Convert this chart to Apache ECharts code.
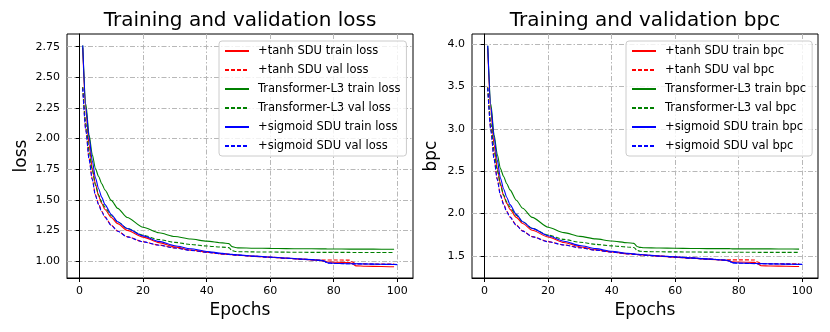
<!DOCTYPE html>
<html>
<head>
<meta charset="utf-8">
<script src="https://cdn.jsdelivr.net/npm/echarts@6/dist/echarts.min.js"></script>
<style>
  html, body { margin: 0; padding: 0; background: #fff; }
  #chart { width: 830px; height: 332px; }
</style>
</head>
<body>
<div id="chart"></div>
<script>
const epochs = [1, 2, 3, 4, 5, 6, 7, 8, 10, 12, 15, 20, 25, 30, 35, 40, 45, 47, 48, 49, 50,
  55, 60, 65, 70, 76, 77, 78, 80, 85, 86, 87, 90, 95, 99, 100];

const epochTicks = [0, 20, 40, 60, 80, 100];
const lossTicks = [1.0, 1.25, 1.5, 1.75, 2.0, 2.25, 2.5, 2.75];
const bpcTicks = [1.5, 2.0, 2.5, 3.0, 3.5, 4.0];

// loss
const tanhTrainLoss = [2.74, 2.22, 1.95, 1.76, 1.63, 1.53, 1.47, 1.42, 1.355, 1.305, 1.25, 1.195, 1.15, 1.115, 1.09, 1.072, 1.058, 1.054, 1.052, 1.05, 1.047,
  1.038, 1.03, 1.022, 1.014, 1.004, 0.998, 0.992, 0.99, 0.987, 0.975, 0.96, 0.957, 0.955, 0.953, null];
const tanhValLoss = [2.42, 2.07, 1.84, 1.67, 1.54, 1.465, 1.405, 1.36, 1.292, 1.245, 1.198, 1.157, 1.13, 1.107, 1.088, 1.072, 1.058, 1.054, 1.051, 1.049, 1.047,
  1.039, 1.031, 1.023, 1.015, 1.007, 1.008, 1.008, 1.008, 1.007, 0.99, 0.978, 0.976, 0.975, 0.975, null];
const transTrainLoss = [2.76, 2.28, 2.03, 1.87, 1.755, 1.69, 1.63, 1.58, 1.495, 1.43, 1.355, 1.275, 1.23, 1.20, 1.179, 1.162, 1.148, 1.142, 1.117, 1.11, 1.107,
  1.104, 1.103, 1.101, 1.10, 1.099, 1.099, 1.098, 1.098, 1.097, 1.097, 1.097, 1.097, 1.096, 1.096, null];
const transValLoss = [2.42, 2.12, 1.90, 1.74, 1.62, 1.54, 1.48, 1.44, 1.37, 1.32, 1.265, 1.21, 1.175, 1.152, 1.135, 1.122, 1.113, 1.109, 1.085, 1.078, 1.076,
  1.074, 1.073, 1.072, 1.071, 1.07, 1.07, 1.07, 1.07, 1.07, 1.069, 1.069, 1.069, 1.069, 1.069, null];
const sigTrainLoss = [2.76, 2.25, 2.01, 1.82, 1.68, 1.59, 1.52, 1.46, 1.38, 1.32, 1.265, 1.205, 1.16, 1.125, 1.10, 1.078, 1.062, 1.057, 1.054, 1.052, 1.05,
  1.04, 1.033, 1.024, 1.016, 1.006, 1.0, 0.985, 0.982, 0.978, 0.977, 0.977, 0.975, 0.973, 0.971, 0.97];
const sigValLoss = [2.41, 2.06, 1.83, 1.665, 1.535, 1.46, 1.40, 1.357, 1.29, 1.243, 1.197, 1.156, 1.129, 1.106, 1.087, 1.071, 1.057, 1.053, 1.05, 1.048, 1.046,
  1.038, 1.03, 1.022, 1.014, 1.005, 0.998, 0.982, 0.98, 0.977, 0.976, 0.976, 0.975, 0.973, 0.972, 0.971];

// bpc
const tanhTrainBpc = [3.95, 3.20, 2.81, 2.54, 2.35, 2.21, 2.12, 2.05, 1.955, 1.883, 1.803, 1.724, 1.659, 1.609, 1.573, 1.547, 1.526, 1.521, 1.518, 1.515, 1.511,
  1.498, 1.486, 1.474, 1.463, 1.448, 1.44, 1.431, 1.428, 1.424, 1.407, 1.385, 1.381, 1.378, 1.375, null];
const tanhValBpc = [3.49, 2.99, 2.655, 2.41, 2.22, 2.114, 2.027, 1.962, 1.864, 1.796, 1.728, 1.669, 1.63, 1.597, 1.57, 1.547, 1.526, 1.521, 1.516, 1.513, 1.511,
  1.499, 1.487, 1.476, 1.464, 1.453, 1.454, 1.454, 1.454, 1.453, 1.428, 1.411, 1.408, 1.407, 1.407, null];
const transTrainBpc = [3.98, 3.29, 2.93, 2.70, 2.53, 2.438, 2.352, 2.279, 2.157, 2.063, 1.955, 1.839, 1.775, 1.731, 1.701, 1.676, 1.656, 1.648, 1.612, 1.601, 1.597,
  1.593, 1.591, 1.588, 1.587, 1.586, 1.586, 1.584, 1.584, 1.583, 1.583, 1.583, 1.583, 1.582, 1.581, null];
const transValBpc = [3.49, 3.06, 2.74, 2.51, 2.34, 2.22, 2.135, 2.077, 1.977, 1.904, 1.825, 1.746, 1.695, 1.662, 1.637, 1.619, 1.606, 1.6, 1.565, 1.555, 1.552,
  1.549, 1.548, 1.547, 1.545, 1.544, 1.544, 1.544, 1.544, 1.544, 1.542, 1.542, 1.542, 1.542, 1.542, null];
const sigTrainBpc = [3.98, 3.25, 2.90, 2.63, 2.42, 2.29, 2.19, 2.106, 1.991, 1.904, 1.825, 1.738, 1.674, 1.623, 1.587, 1.555, 1.532, 1.525, 1.521, 1.518, 1.515,
  1.5, 1.49, 1.477, 1.466, 1.451, 1.443, 1.421, 1.417, 1.411, 1.41, 1.41, 1.407, 1.404, 1.401, 1.399];
const sigValBpc = [3.48, 2.97, 2.64, 2.40, 2.215, 2.106, 2.02, 1.958, 1.861, 1.793, 1.727, 1.668, 1.629, 1.596, 1.568, 1.545, 1.525, 1.519, 1.515, 1.512, 1.509,
  1.498, 1.486, 1.474, 1.463, 1.45, 1.44, 1.417, 1.414, 1.41, 1.408, 1.408, 1.407, 1.404, 1.402, 1.401];

const FONT = "DejaVu Sans";

function pairs(vals) {
  return epochs.map((e, i) => [e, vals[i]]).filter((p) => p[1] != null);
}

function line(name, color, dashed, vals, idx) {
  return {
    name: name,
    type: "line",
    xAxisIndex: idx,
    yAxisIndex: idx,
    data: pairs(vals),
    symbol: "none",
    smooth: 0.25,
    smoothMonotone: "x",
    animation: false,
    lineStyle: { color: color, width: 1.1, type: dashed ? [4, 2] : "solid" },
    itemStyle: { color: color },
  };
}

const gridLine = { show: true, lineStyle: { color: "#b8b8b8", width: 1, type: [5, 2, 1.5, 2] } };

function xAxis(idx) {
  return {
    type: "value",
    gridIndex: idx,
    min: -3.95,
    max: 104.95,
    name: "Epochs",
    nameLocation: "middle",
    nameGap: 22,
    nameTextStyle: { fontFamily: FONT, fontSize: 17, color: "#000" },
    axisLine: { show: true, lineStyle: { color: "#000", width: 1 } },
    axisTick: { show: true, length: 4, customValues: epochTicks, lineStyle: { color: "#000" } },
    axisLabel: { customValues: epochTicks, margin: 8, fontFamily: FONT, fontSize: 11, color: "#000" },
    splitLine: gridLine,
  };
}

function yAxis(idx, name, min, max, ticks, digits, gap) {
  return {
    type: "value",
    gridIndex: idx,
    min: min,
    max: max,
    name: name,
    nameLocation: "middle",
    nameGap: gap,
    nameTextStyle: { fontFamily: FONT, fontSize: 17, color: "#000" },
    axisLine: { show: true, lineStyle: { color: "#000", width: 1 } },
    axisTick: { show: true, length: 4, customValues: ticks, lineStyle: { color: "#000" } },
    axisLabel: {
      customValues: ticks,
      margin: 7,
      fontFamily: FONT,
      fontSize: 11,
      color: "#000",
      formatter: (v) => v.toFixed(digits),
    },
    splitLine: gridLine,
  };
}

function legend(names, left) {
  return {
    data: names,
    orient: "vertical",
    left: left,
    top: 41,
    itemWidth: 24,
    itemHeight: 10,
    itemGap: 7,
    padding: [4, 6, 4, 5],
    selectedMode: false,
    backgroundColor: "rgba(255,255,255,0.8)",
    borderColor: "#cccccc",
    borderWidth: 1,
    borderRadius: 3,
    itemStyle: { opacity: 0, borderWidth: 0 },
    textStyle: { fontFamily: FONT, fontSize: 11.5, color: "#000", padding: [0, 0, 0, 4] },
  };
}

const lossNames = ["+tanh SDU train loss", "+tanh SDU val loss", "Transformer-L3 train loss",
  "Transformer-L3 val loss", "+sigmoid SDU train loss", "+sigmoid SDU val loss"];
const bpcNames = ["+tanh SDU train bpc", "+tanh SDU val bpc", "Transformer-L3 train bpc",
  "Transformer-L3 val bpc", "+sigmoid SDU train bpc", "+sigmoid SDU val bpc"];

const chart = echarts.init(document.getElementById("chart"));
chart.setOption({
  backgroundColor: "#fff",
  animation: false,
  title: [
    { text: "Training and validation loss", left: 240, top: 11, padding: 0, textAlign: "center",
      textStyle: { fontFamily: FONT, fontSize: 20, fontWeight: "normal", color: "#000" } },
    { text: "Training and validation bpc", left: 645, top: 11, padding: 0, textAlign: "center",
      textStyle: { fontFamily: FONT, fontSize: 20, fontWeight: "normal", color: "#000" } },
  ],
  grid: [
    { left: 67, right: 417, top: 34, bottom: 54, show: true, borderColor: "#000", borderWidth: 1, backgroundColor: "transparent" },
    { left: 472, right: 12, top: 34, bottom: 54, show: true, borderColor: "#000", borderWidth: 1, backgroundColor: "transparent" },
  ],
  legend: [legend(lossNames, 219), legend(bpcNames, 626)],
  xAxis: [xAxis(0), xAxis(1)],
  yAxis: [
    yAxis(0, "loss", 0.861, 2.854, lossTicks, 2, 37),
    yAxis(1, "bpc", 1.24, 4.118, bpcTicks, 1, 32),
  ],
  series: [
    line(lossNames[0], "#ff0000", false, tanhTrainLoss, 0),
    line(lossNames[1], "#ff0000", true, tanhValLoss, 0),
    line(lossNames[2], "#008000", false, transTrainLoss, 0),
    line(lossNames[3], "#008000", true, transValLoss, 0),
    line(lossNames[4], "#0000ff", false, sigTrainLoss, 0),
    line(lossNames[5], "#0000ff", true, sigValLoss, 0),
    line(bpcNames[0], "#ff0000", false, tanhTrainBpc, 1),
    line(bpcNames[1], "#ff0000", true, tanhValBpc, 1),
    line(bpcNames[2], "#008000", false, transTrainBpc, 1),
    line(bpcNames[3], "#008000", true, transValBpc, 1),
    line(bpcNames[4], "#0000ff", false, sigTrainBpc, 1),
    line(bpcNames[5], "#0000ff", true, sigValBpc, 1),
  ],
});
</script>
</body>
</html>
